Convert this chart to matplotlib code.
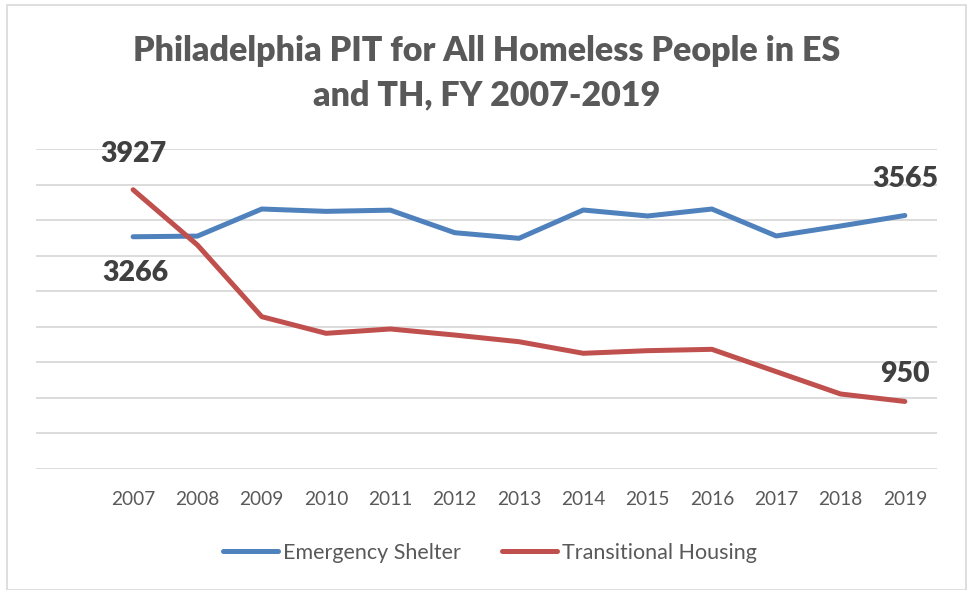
import matplotlib
matplotlib.use("Agg")
import matplotlib.pyplot as plt
from matplotlib.patches import Rectangle
from matplotlib.lines import Line2D

years = ["2007", "2008", "2009", "2010", "2011", "2012", "2013",
         "2014", "2015", "2016", "2017", "2018", "2019"]
emergency_shelter = [3266, 3275, 3656, 3623, 3640, 3323, 3244,
                     3642, 3558, 3656, 3277, 3417, 3565]
transitional_housing = [3927, 3150, 2142, 1908, 1969, 1884, 1790,
                        1627, 1664, 1683, 1369, 1055, 950]
series_names = ["Emergency Shelter", "Transitional Housing"]
title = "Philadelphia PIT for All Homeless People in ES\nand TH, FY 2007-2019"

FONT = ["Lato", "DejaVu Sans"]
blue = "#4F81BD"
red = "#C0504D"
W, H = 967, 590

fig = plt.figure(figsize=(W / 100, H / 100), dpi=100)
fig.patches.append(Rectangle((7 / W, 0), (966 - 7) / W, 1 - 5 / H,
                             transform=fig.transFigure, fill=False,
                             edgecolor="#D9D9D9", linewidth=1.2))

left, right, top, bottom = 36, 937, 149, 469
ax = fig.add_axes([left / W, 1 - bottom / H, (right - left) / W, (bottom - top) / H])

x = list(range(len(years)))
ax.plot(x, emergency_shelter, color=blue, lw=3.6, solid_capstyle="round",
        solid_joinstyle="round", label=series_names[0], zorder=3)
ax.plot(x, transitional_housing, color=red, lw=3.6, solid_capstyle="round",
        solid_joinstyle="round", label=series_names[1], zorder=3)

ax.set_xlim(-1.51, 12.5)
ax.set_ylim(0, 4500)
ax.set_yticks(range(0, 4501, 500))
ax.set_yticklabels([])
ax.tick_params(axis="y", length=0)
ax.grid(axis="y", color="#D9D9D9", lw=1.3)
ax.set_axisbelow(True)
for s in ax.spines.values():
    s.set_visible(False)
ax.set_xticks(x)
ax.set_xticklabels(years, family=FONT, fontsize=13.8, color="#595959")
ax.tick_params(axis="x", length=0, pad=16)

lab_kw = dict(textcoords="offset pixels", ha="center", va="center",
              family=FONT, fontweight="heavy", fontsize=20.5, color="#404040")
ax.annotate(str(transitional_housing[0]), (0, transitional_housing[0]), xytext=(0, 36), **lab_kw)
ax.annotate(str(emergency_shelter[0]), (0, emergency_shelter[0]), xytext=(2, -36), **lab_kw)
ax.annotate(str(emergency_shelter[-1]), (12, emergency_shelter[-1]), xytext=(0, 36), **lab_kw)
ax.annotate(str(transitional_housing[-1]), (12, transitional_housing[-1]), xytext=(0, 27), **lab_kw)

fig.text(487 / W, 1 - 73 / H, title, ha="center", va="center", family=FONT,
         fontweight="heavy", fontsize=24.5, color="#595959", linespacing=1.45)

handles = [Line2D([], [], color=blue, lw=3.6, solid_capstyle="round"),
           Line2D([], [], color=red, lw=3.6, solid_capstyle="round")]
leg = fig.legend(handles, series_names, loc="center", bbox_to_anchor=(490 / W, 1 - 553 / H),
                 ncol=2, frameon=False, prop={"family": FONT, "size": 15.5},
                 handlelength=2.55, handletextpad=0.23, columnspacing=1.9)
for t in leg.get_texts():
    t.set_color("#595959")

fig.savefig("out.png", dpi=100)
